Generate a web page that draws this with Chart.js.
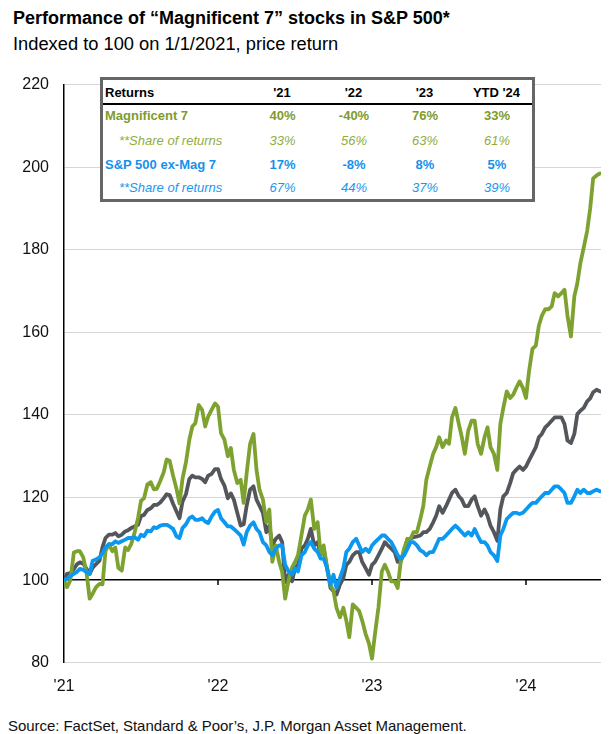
<!DOCTYPE html>
<html>
<head>
<meta charset="utf-8">
<script src="https://cdn.jsdelivr.net/npm/chart.js@4.4.1/dist/chart.umd.min.js"></script>
<style>
  html, body { margin:0; padding:0; background:#fff; }
  body { width:610px; height:734px; position:relative; overflow:hidden; font-family:"Liberation Sans", Arial, sans-serif; color:#000; }
  #title { position:absolute; left:13px; top:8px; font-size:18px; font-weight:bold; white-space:nowrap; }
  #subtitle { position:absolute; left:13px; top:33px; font-size:18.3px; white-space:nowrap; }
  #source { position:absolute; left:8px; top:717px; font-size:15px; letter-spacing:-0.05px; white-space:nowrap; color:#111; }
  #wrap { position:absolute; left:0; top:60px; width:610px; height:650px; }
  #tbl { position:absolute; left:100px; top:77px; width:435px; height:125px; box-sizing:border-box; border:3px solid #666; background:#fff; }
  #tbl .c { position:absolute; white-space:nowrap; font-size:13px; line-height:16px; }
  #tbl .hl { position:absolute; left:0; right:0; height:1.5px; background:#000; }
</style>
</head>
<body>
<div id="title">Performance of “Magnificent 7” stocks in S&amp;P 500*</div>
<div id="subtitle">Indexed to 100 on 1/1/2021, price return</div>
<div id="wrap"><canvas id="chart"></canvas></div>
<div id="tbl"></div>
<div id="source">Source: FactSet, Standard &amp; Poor’s, J.P. Morgan Asset Management.</div>
<script>
// ---------- DATA ----------
// observation months and the four observation days within each month
const months = [
"2021-01","2021-02","2021-03","2021-04","2021-05","2021-06","2021-07","2021-08","2021-09","2021-10","2021-11","2021-12",
"2022-01","2022-02","2022-03","2022-04","2022-05","2022-06","2022-07","2022-08","2022-09","2022-10","2022-11","2022-12",
"2023-01","2023-02","2023-03","2023-04","2023-05","2023-06","2023-07","2023-08","2023-09","2023-10","2023-11","2023-12",
"2024-01","2024-02","2024-03","2024-04","2024-05","2024-06"];
const days = ["01", "08", "16", "24"];

// Magnificent 7 (indexed, 1/1/2021 = 100)
const mag7 = [
100, 98.3, 100, 106.7,   107, 107, 105.5, 101.5,   95.5, 96.7, 98.3, 99.1,   99, 107, 108.7, 107,
107.9, 103, 102.3, 107.9,   107.3, 108.7, 111.5, 115,   119.2, 119.8, 123.2, 123.7,   122, 122.1, 124, 126.1,
129.2, 128.9, 125.3, 122.1,   118.6, 124.5, 128.5, 134,   137.2, 138, 142.4, 141.2,   137.2, 139.6, 141.2, 142.8,
142, 135.6, 134, 130,   132, 126.7, 123.5, 124.3,   118.7, 125.9, 133, 135.4,   126.7, 121.9, 119.5, 114,
117.1, 104.4, 108.4, 104.4,   102, 95.5, 100, 103,   104.4, 106, 110.8, 115.6,   117.1, 119.5, 112.4, 114,
106, 108.4, 102.9, 98.9,   97.3, 93.3, 91, 93.3,   90.2, 86.2, 94.1, 93.3,   92.5, 90.2, 87, 84.6,
81, 87, 93.3, 102.1,   103.7, 102.1, 99.7, 99.7,   98.1, 104.4, 107.6, 110,   110, 111.6, 111.6, 114.8,
118, 124.3, 127.5, 130.6,   132.2, 134.6, 132.2, 133.8,   133, 139.4, 141.7, 137.8,   134.6, 130.6, 136.2, 138.6,
138.6, 133, 130.6, 134.6,   137, 132.2, 130.6, 126.7,   137.8, 141.7, 145.7, 144.1,   144.9, 146.5, 148.1, 146.5,
144.1, 150.5, 156, 156.8,   161.6, 164, 165.6, 165.6,   166.3, 169.5, 168.7, 169.5,   170.3, 164, 159, 168.7,
171.9, 176.7, 180.6, 184.6,   190, 197.3, 198, 198.5];

// S&P 500 (indexed)
const sp500 = [
100, 101.5, 101.7, 102.7,   103.8, 104.3, 104, 102.7,   101.5, 103, 103.9, 104.7,   108, 110.2, 111, 111,
111.4, 110.6, 111, 111.8,   112.1, 112.6, 113, 113.4,   115.5, 115.8, 117, 117.4,   118.2, 118.2, 118.8, 119.8,
120.8, 120.6, 118.5, 116.6,   115, 119, 120.8, 124.5,   125.3, 124.9, 124.9, 124.5,   123.7, 125.3, 125.7, 126.9,
126.9, 124.5, 122.9, 119.8,   121, 119.5, 116.3, 113.2,   113.5, 118, 121.9, 122.7,   119.5, 118, 116.3, 111.6,
113.2, 108.4, 110, 110.8,   109.2, 99.5, 101.3, 99.7,   102.9, 103.7, 107.6, 108.4,   110, 112.4, 108.4, 109.2,
106, 107.6, 102.9, 98.1,   97.3, 96.5, 98.9, 100.5,   103.7, 104.4, 106, 106.8,   106.8, 104.4, 102.9, 101.3,
103.7, 104.4, 106, 107.6,   109.2, 108.4, 107.6, 106.8,   104.4, 104.4, 106.8, 110,   110, 110.4, 110.6, 110.8,
111.6, 111.6, 112.4, 114,   115.6, 117.9, 116.3, 117.9,   119.5, 121.1, 121.9, 120.3,   119.5, 117.9, 117.9, 119.5,
120.3, 117.9, 115.6, 117.1,   115.6, 113.2, 111.6, 109.5,   117.1, 120.3, 121.1, 123.5,   125.9, 126.7, 127.5, 126.7,
127.5, 129, 130.6, 132.2,   134.6, 135.4, 137, 137.8,   138.6, 139.4, 139.4, 139.4,   137.8, 133.8, 133.2, 135.4,
140.2, 141, 141.7, 143.3,   144, 145.5, 146.1, 145.7];

// S&P 500 ex-Mag 7 (indexed)
const exMag7 = [
100, 100.3, 101, 101.5,   102, 102.7, 102.5, 101.9,   101.5, 104.7, 105, 105.5,   106.5, 107.9, 108.7, 108.7,
109.4, 109, 109.4, 109.8,   110.2, 110.2, 110.4, 109.8,   111, 110.6, 112, 111.8,   112.8, 112.6, 113.2, 113.4,
113.4, 113, 112.4, 110.6,   110.2, 112.6, 113.5, 115,   115.4, 114.6, 114.6, 115,   114.2, 113.8, 115.4, 116.6,
117, 115, 114, 113,   113, 112.4, 111.6, 110.8,   108.6, 111.6, 113.2, 114,   112.4, 111.6, 109.2, 108.4,
106.8, 106, 107.6, 108.4,   108.4, 103.7, 102.1, 101.3,   102.9, 102.1, 106, 106.8,   108.4, 109.2, 107.6, 106.8,
105.2, 105.2, 102.9, 98.9,   101.3, 98.1, 100.5, 102.9,   106.8, 107.6, 109.2, 110,   108.4, 106.8, 107.6, 106.8,
108.4, 109.2, 110, 110.8,   110.8, 110, 109.2, 107.6,   106, 105.2, 106, 107.6,   109.2, 109.2, 108.4, 107.2,
106.8, 106, 106.8, 106.8,   108.4, 110, 110, 110.8,   111.6, 112.4, 113.2, 112.4,   111.6, 110.8, 111.6, 110.8,
112.4, 110.8, 109.2, 109.2,   108.4, 106.8, 106, 104.6,   110.8, 112.4, 114.8, 115.6,   116.3, 116.3, 116, 116.3,
117.1, 117.9, 118.7, 118.7,   119.5, 120.3, 121.1, 121.1,   121.9, 122.7, 122.7, 121.9,   121.1, 118.7, 118.7, 120.3,
121.9, 121.1, 121.9, 121.1,   121.1, 121.5, 121.9, 121.5];

const yTicks = [80, 100, 120, 140, 160, 180, 200, 220];
const xTickYears = [2021, 2022, 2023, 2024];

const tableHeader = ["Returns", "'21", "'22", "'23", "YTD '24"];
const rowLabels = ["Magnificent 7", "**Share of returns", "S&P 500 ex-Mag 7", "**Share of returns"];
const mag7Returns = ["40%", "-40%", "76%", "33%"];
const mag7Share   = ["33%", "56%", "63%", "61%"];
const exReturns   = ["17%", "-8%", "8%", "5%"];
const exShare     = ["67%", "44%", "37%", "39%"];

// ---------- HELPERS ----------
const dates = months.flatMap(m => days.map(d => m + '-' + d));
function toYear(s){
  const [y,m,d] = s.split('-').map(Number);
  return y + (m - 1 + (d - 1) / 30) / 12;
}
function pts(vals){ return vals.map((v,i)=>({x: toYear(dates[i]), y: v})); }

const GREEN = '#7ea22f', GRAY = '#53565a', BLUE = '#0a98f0';

// ---------- TABLE ----------
(function(){
  const t = document.getElementById('tbl');
  const ox = 103, oy = 80; // inner origin in page coords
  const colX = [282, 353.5, 424.5, 496.5];
  const rowY = [93, 116, 141, 165, 188];
  function cell(txt, x, y, style, center){
    const d = document.createElement('div');
    d.className = 'c';
    d.textContent = txt;
    d.style.left = (x - ox) + 'px';
    d.style.top = (y - oy) + 'px';
    d.style.transform = center ? 'translate(-50%,-50%)' : 'translate(0,-50%)';
    Object.assign(d.style, style);
    t.appendChild(d);
  }
  cell(tableHeader[0], 105, rowY[0], {fontWeight:'bold', color:'#000'}, false);
  for (let i=1;i<5;i++) cell(tableHeader[i], colX[i-1], rowY[0], {fontWeight:'bold', color:'#000'}, true);
  const hl = document.createElement('div'); hl.className='hl'; hl.style.top = (103 - oy) + 'px'; t.appendChild(hl);
  const rows = [
    {label: rowLabels[0], vals: mag7Returns, lx:105, st:{fontWeight:'bold', color:'#7f9b2c'}},
    {label: rowLabels[1], vals: mag7Share, lx:119, st:{fontStyle:'italic', color:'#8fae3c'}},
    {label: rowLabels[2], vals: exReturns, lx:105, st:{fontWeight:'bold', color:'#1790ea'}},
    {label: rowLabels[3], vals: exShare, lx:119, st:{fontStyle:'italic', color:'#2196ef'}}
  ];
  rows.forEach((r, ri) => {
    cell(r.label, r.lx, rowY[ri+1], r.st, false);
    r.vals.forEach((v, ci) => cell(v, colX[ci] + 0.5, rowY[ri+1], r.st, true));
  });
})();

// ---------- CHART ----------
const tickMarks = {
  id: 'tickMarks',
  beforeDatasetsDraw(chart){
    const {ctx, scales:{x, y}} = chart;
    const y0 = y.getPixelForValue(100);
    ctx.save();
    ctx.strokeStyle = '#000';
    ctx.lineWidth = 1.5;
    xTickYears.slice(1).forEach(v => {
      const px = x.getPixelForValue(v);
      ctx.beginPath(); ctx.moveTo(px, y0); ctx.lineTo(px, y0 + 5); ctx.stroke();
    });
    ctx.restore();
  }
};

new Chart(document.getElementById('chart'), {
  type: 'line',
  data: {
    datasets: [
      {label: 'S&P 500 ex-Mag 7', data: pts(exMag7), borderColor: BLUE, order: 1},
      {label: 'Magnificent 7', data: pts(mag7), borderColor: GREEN, order: 2},
      {label: 'S&P 500', data: pts(sp500), borderColor: GRAY, order: 3}
    ]
  },
  options: {
    responsive: true,
    maintainAspectRatio: false,
    animation: false,
    parsing: false,
    elements: {
      line: {borderWidth: 3.8, tension: 0, borderCapStyle: 'round', borderJoinStyle: 'round'},
      point: {radius: 0}
    },
    layout: {padding: {top: 14.7, right: 9, left: 0, bottom: 0}},
    plugins: {legend: {display: false}, tooltip: {enabled: false}},
    scales: {
      x: {
        type: 'linear',
        min: 2021, max: 2024.487,
        afterBuildTicks(scale){ scale.ticks = xTickYears.map(v => ({value: v})); },
        afterFit(scale){ scale.height = 47.3; },
        grid: {display: false, drawTicks: false},
        border: {display: false},
        ticks: {
          callback: v => "'" + String(v).slice(2),
          font: {family: "'Liberation Sans', Arial, sans-serif", size: 16},
          color: '#111', padding: 14, maxRotation: 0, autoSkip: false
        }
      },
      y: {
        min: 80, max: 220,
        afterBuildTicks(scale){ scale.ticks = yTicks.map(v => ({value: v})); },
        afterFit(scale){ scale.width = 64; },
        grid: {
          drawTicks: false,
          color: c => c.tick && c.tick.value === 100 ? '#000' : '#d6d6d6',
          lineWidth: c => c.tick && c.tick.value === 100 ? 1.5 : 1
        },
        border: {display: true, color: '#000', width: 1.5},
        ticks: {
          font: {family: "'Liberation Sans', Arial, sans-serif", size: 16},
          color: '#111', padding: 15
        }
      }
    }
  },
  plugins: [tickMarks]
});
</script>
</body>
</html>
